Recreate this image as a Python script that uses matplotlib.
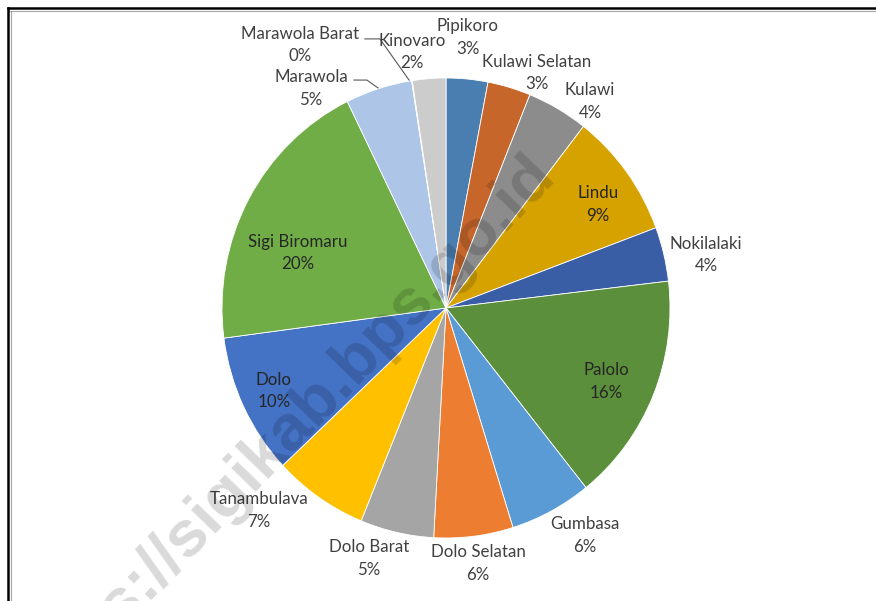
import numpy as np
import matplotlib.pyplot as plt
from matplotlib.lines import Line2D

# data
kecamatan = ["Pipikoro", "Kulawi Selatan", "Kulawi", "Lindu", "Nokilalaki",
             "Palolo", "Gumbasa", "Dolo Selatan", "Dolo Barat", "Tanambulava",
             "Dolo", "Sigi Biromaru", "Marawola", "Marawola Barat", "Kinovaro"]
persen = [3.0, 3.1, 4.4, 8.8, 3.8, 16.1, 5.9, 5.7, 5.3, 6.8, 9.9, 19.8, 4.8, 0.05, 2.4]

warna = ["#4a7eb1", "#c6662b", "#8c8c8c", "#d6a200", "#3a5ea6", "#5b8f3b",
         "#5b9bd5", "#ed7d31", "#a5a5a5", "#ffc000", "#4472c4", "#70ad47",
         "#adc5e7", "#c0cfe6", "#cccccc"]

# label positions (pie units), inside/outside
label_pos = [(0.098, 1.176), (0.405, 1.022), (0.643, 0.898), (0.679, 0.45),
             (1.161, 0.23), (0.714, -0.32), (0.621, -0.99), (0.143, -1.11),
             (-0.344, -1.09), (-0.835, -0.88), (-0.768, -0.36), (-0.661, 0.24),
             (-0.603, 0.954), (-0.652, 1.143), (-0.152, 1.113)]
inside = [3, 5, 10, 11]

fig = plt.figure(figsize=(8.76, 6.01), dpi=100)
ax = fig.add_axes([0, 0, 1, 1])

ax.pie(persen, colors=warna, startangle=90, counterclock=False,
       wedgeprops=dict(edgecolor="white", linewidth=0.6))
ax.set_aspect("auto")
ax.set_xlim(-446 / 224, 430 / 224)
ax.set_ylim(-293 / 230, 308 / 230)
ax.axis("off")

for i, nama in enumerate(kecamatan):
    x, y = label_pos[i]
    c = "#262626" if i in inside else "#404040"
    ax.text(x, y, "{}\n{:.0f}%".format(nama, persen[i]), ha="center", va="center",
            fontsize=12.2, family="Lato", color=c, linespacing=1.5)

# leader lines (Marawola Barat, Marawola)
ax.plot([-0.362, -0.295, -0.165], [1.17, 1.17, 0.991], color="#595959", lw=0.8)
ax.plot([-0.411, -0.353, -0.304], [0.991, 0.991, 0.957], color="#595959", lw=0.8)

# watermark
ax.text((284 - 446) / 224, (308 - 434) / 230, "https://sigikab.bps.go.id",
        rotation=46, ha="center", va="center", rotation_mode="anchor",
        fontsize=47, family="Liberation Sans", fontweight="bold",
        color="black", alpha=0.15)

# frame
fig.add_artist(Line2D([0.0091, 1], [0.9867, 0.9867], color="black", lw=1.8))
fig.add_artist(Line2D([0.0091, 1], [0.9817, 0.9817], color="#a6a6a6", lw=0.8))
fig.add_artist(Line2D([0.0091, 0.0091], [0, 0.9867], color="black", lw=1.8))
fig.add_artist(Line2D([0.0125, 0.0125], [0, 0.9817], color="#a6a6a6", lw=0.8))

fig.savefig("out.png", dpi=100)
